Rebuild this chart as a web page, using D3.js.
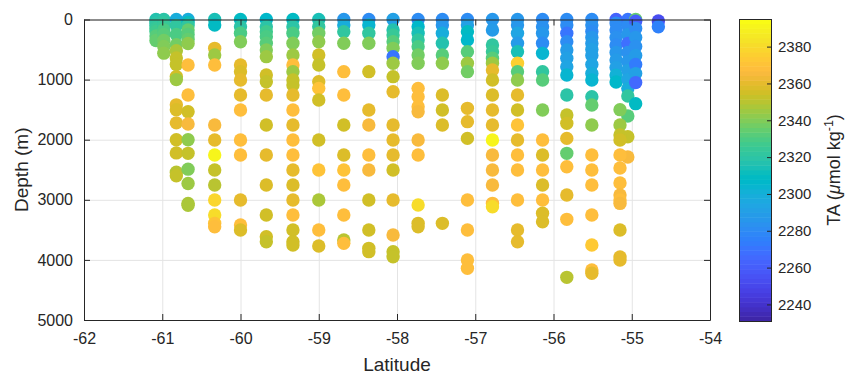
<!DOCTYPE html>
<html>
<head>
<meta charset="utf-8">
<script src="https://cdn.jsdelivr.net/npm/d3@7"></script>
<style>
  html, body { margin: 0; padding: 0; background: #fff; }
  svg text { font-family: "Liberation Sans", Arial, Helvetica, sans-serif; fill: #262626; }
</style>
</head>
<body>
<svg id="chart" width="845" height="374"></svg>
<script>
// Station latitudes (deg N) of the section
const stationLatitude = [
  -61.08, -60.98, -60.82, -60.67, -60.33, -60.0, -59.67, -59.33, -59.0,
  -58.68, -58.36, -58.05, -57.73, -57.42, -57.1, -56.78, -56.46, -56.14,
  -55.83, -55.51, -55.2, -55.05, -54.95, -55.15, -54.66
];

// Bottle depths (m) at each station
const sampleDepth = [
  [0, 25, 60, 100, 150, 200, 275, 350],
  [0, 50, 100, 175, 250, 350, 450, 560],
  [0, 100, 250, 420, 520, 640, 750, 950, 1000, 1420, 1500, 1720, 2000, 2220, 2540, 2600],
  [0, 50, 100, 175, 250, 330, 400, 757, 1256, 1534, 1740, 2000, 2227, 2490, 2730, 3060, 3090],
  [0, 92, 480, 591, 757, 1755, 2005, 2255, 2504, 2754, 3004, 3253, 3392, 3448],
  [0, 120, 230, 369, 757, 868, 1007, 1256, 1506, 2005, 2255, 3004, 3420, 3503],
  [0, 120, 203, 286, 396, 507, 618, 924, 1035, 1256, 1755, 2255, 2754, 3253, 3614, 3697],
  [0, 120, 230, 396, 591, 757, 868, 1007, 1090, 1256, 1506, 1755, 2005, 2255, 2504, 2754, 3004, 3253, 3503, 3697, 3752],
  [0, 120, 230, 369, 591, 757, 1035, 1146, 1340, 2005, 2504, 3004, 3503, 3769],
  [0, 92, 203, 396, 868, 1256, 1755, 2255, 2504, 2754, 3253, 3669, 3725],
  [0, 92, 230, 396, 868, 1506, 1755, 2255, 2504, 3004, 3503, 3808, 3863],
  [0, 175, 258, 369, 480, 618, 729, 951, 1201, 1755, 2005, 2255, 2504, 3004, 3586, 3863, 3947],
  [0, 120, 230, 341, 452, 591, 729, 1146, 1284, 1451, 1534, 2005, 2255, 3087, 3392, 3448],
  [0, 92, 230, 396, 591, 729, 1256, 1506, 1755, 3392],
  [0, 92, 203, 341, 535, 729, 868, 1478, 1700, 1978, 3004, 3503, 4002, 4140],
  [0, 175, 424, 535, 646, 729, 840, 1007, 1256, 1506, 1755, 2005, 2255, 2504, 2754, 3059, 3115],
  [0, 92, 230, 396, 535, 729, 868, 1007, 1256, 1506, 1755, 2005, 2255, 2504, 3004, 3503, 3697],
  [0, 120, 230, 396, 563, 868, 1007, 1506, 2005, 2255, 2504, 2754, 3004, 3225, 3365],
  [0, 92, 230, 369, 507, 646, 785, 924, 1256, 1589, 1728, 1978, 2227, 2449, 2921, 3325, 4290],
  [0, 92, 200, 300, 400, 500, 600, 750, 900, 1007, 1284, 1423, 1755, 2255, 2504, 2754, 3253, 3752, 4168, 4223],
  [0, 60, 175, 300, 425, 550, 675, 800, 925, 1040],
  [0, 100, 250, 400, 550, 700, 850, 1000, 1150, 1273, 1606, 1950, 2288],
  [0, 30, 150, 300, 450, 600, 750, 900, 1050, 1400],
  [1500, 1755, 1922, 2005, 2255, 2470, 2720, 2920, 3004, 3060, 3503, 3952, 4002],
  [25, 120]
];

// Total alkalinity (umol/kg) of each bottle
const sampleTA = [
  [2318, 2318, 2320, 2322, 2325, 2328, 2332, 2335],
  [2320, 2322, 2325, 2330, 2333, 2337, 2340, 2342],
  [2300, 2322, 2330, 2338, 2348, 2352, 2353, 2356, 2345, 2360, 2357, 2361, 2355, 2355, 2350, 2352],
  [2298, 2312, 2322, 2335, 2333, 2336, 2342, 2368, 2367, 2355, 2366, 2343, 2352, 2340, 2345, 2348, 2347],
  [2315, 2308, 2360, 2345, 2369, 2366, 2361, 2390, 2352, 2350, 2378, 2380, 2370, 2368],
  [2308, 2320, 2330, 2340, 2360, 2358, 2361, 2361, 2367, 2368, 2368, 2360, 2368, 2358],
  [2306, 2320, 2326, 2330, 2333, 2340, 2346, 2354, 2352, 2360, 2355, 2360, 2357, 2354, 2354, 2353],
  [2310, 2320, 2330, 2340, 2345, 2368, 2345, 2352, 2352, 2360, 2368, 2360, 2367, 2367, 2360, 2357, 2360, 2367, 2356, 2355, 2355],
  [2315, 2322, 2338, 2342, 2355, 2352, 2357, 2370, 2355, 2355, 2370, 2348, 2368, 2359],
  [2285, 2298, 2322, 2340, 2368, 2368, 2356, 2357, 2370, 2368, 2368, 2350, 2368],
  [2280, 2305, 2322, 2340, 2355, 2360, 2366, 2368, 2366, 2356, 2356, 2355, 2355],
  [2290, 2318, 2324, 2332, 2340, 2270, 2345, 2352, 2360, 2361, 2361, 2361, 2356, 2361, 2366, 2352, 2352],
  [2282, 2306, 2314, 2322, 2330, 2338, 2340, 2368, 2368, 2368, 2366, 2366, 2367, 2380, 2358, 2357],
  [2282, 2286, 2300, 2318, 2333, 2342, 2357, 2356, 2357, 2357],
  [2280, 2292, 2310, 2306, 2332, 2345, 2338, 2360, 2360, 2356, 2368, 2368, 2368, 2368],
  [2285, 2288, 2322, 2325, 2332, 2345, 2360, 2356, 2357, 2361, 2361, 2392, 2366, 2366, 2366, 2368, 2382],
  [2285, 2285, 2295, 2288, 2315, 2375, 2333, 2342, 2360, 2356, 2370, 2361, 2368, 2368, 2368, 2361, 2360],
  [2282, 2283, 2285, 2282, 2305, 2322, 2332, 2340, 2368, 2357, 2368, 2357, 2368, 2357, 2359],
  [2282, 2280, 2270, 2282, 2288, 2290, 2295, 2305, 2320, 2352, 2354, 2360, 2336, 2368, 2361, 2368, 2350],
  [2282, 2283, 2280, 2285, 2288, 2290, 2292, 2295, 2298, 2305, 2320, 2335, 2343, 2368, 2368, 2368, 2368, 2374, 2368, 2360],
  [2262, 2280, 2282, 2284, 2282, 2285, 2288, 2292, 2302, 2306],
  [2270, 2282, 2285, 2268, 2283, 2286, 2290, 2294, 2300, 2322, 2332, 2352, 2366],
  [2335, 2260, 2282, 2286, 2283, 2288, 2272, 2291, 2266, 2308],
  [2340, 2345, 2352, 2355, 2368, 2368, 2368, 2366, 2368, 2366, 2359, 2361, 2361],
  [2252, 2276]
];

const latitudeTicks = [-62, -61, -60, -59, -58, -57, -56, -55, -54];
const depthTicks = [0, 1000, 2000, 3000, 4000, 5000];
const taTicks = [2240, 2260, 2280, 2300, 2320, 2340, 2360, 2380];
const taLimits = [2231, 2395];

// 64-step parula colormap
const parula = [
  "#3e26a8","#402ab4","#422ec0","#4332cb","#4537d5","#463cde","#4741e5","#4747eb",
  "#484df0","#4852f4","#4758f8","#465efb","#4563fd","#4269fe","#3e6fff","#3875fe",
  "#327cfc","#2f81fa","#2e87f7","#2d8cf3","#2b91ef","#2797eb","#259be8","#23a0e5",
  "#20a5e3","#1ca9df","#18addb","#12b1d6","#08b5d0","#01b8ca","#02bac3","#0bbdbd",
  "#19bfb6","#24c1ae","#2cc4a7","#31c69f","#37c897","#3fca8e","#4acb84","#57cc7a",
  "#64cd6f","#72cd64","#81cc59","#8fcb4e","#9dc943","#abc739","#b9c431","#c5c22a",
  "#d1bf27","#dcbd29","#e6bb2d","#f0ba36","#f8ba3d","#febe3c","#fec338","#fec934",
  "#fccf30","#fad62d","#f7dc2a","#f5e327","#f5e924","#f6ef20","#f7f51b","#f9fb15"
];

const svg = d3.select("#chart");
const box = { left: 84, right: 710, top: 19.5, bottom: 320 };
const ink = "#262626";

const x = d3.scaleLinear().domain([-62, -54]).range([box.left, box.right]);
const y = d3.scaleLinear().domain([0, 5000]).range([box.top, box.bottom]);
const color = d3.scaleQuantize().domain(taLimits).range(parula);
const plain = d => String(d);

// grid lines
svg.append("g")
  .attr("transform", `translate(0,${box.bottom})`)
  .call(d3.axisBottom(x).tickValues(latitudeTicks).tickSize(-(box.bottom - box.top)).tickFormat(""))
  .call(g => g.select(".domain").remove())
  .selectAll("line").attr("stroke", "#e4e4e4");
svg.append("g")
  .attr("transform", `translate(${box.left},0)`)
  .call(d3.axisLeft(y).tickValues(depthTicks).tickSize(-(box.right - box.left)).tickFormat(""))
  .call(g => g.select(".domain").remove())
  .selectAll("line").attr("stroke", "#e4e4e4");

// bottle samples
const samples = stationLatitude.flatMap((lat, i) =>
  sampleDepth[i].map((depth, j) => ({ lat, depth, ta: sampleTA[i][j] })));
svg.append("g")
  .selectAll("circle")
  .data(samples)
  .join("circle")
  .attr("cx", d => x(d.lat))
  .attr("cy", d => y(d.depth))
  .attr("r", 6.7)
  .attr("fill", d => color(d.ta));

// axes box with inward ticks
function styleAxis(g, size) {
  g.select(".domain").attr("stroke", ink);
  g.selectAll(".tick line").attr("stroke", ink);
  g.selectAll(".tick text").attr("font-size", size).attr("fill", ink)
    .attr("font-family", "'Liberation Sans', Arial, sans-serif");
}
svg.append("g")
  .attr("transform", `translate(0,${box.bottom})`)
  .call(d3.axisBottom(x).tickValues(latitudeTicks).tickSizeInner(-6).tickSizeOuter(0).tickPadding(13).tickFormat(plain))
  .call(g => styleAxis(g, 16));
svg.append("g")
  .attr("transform", `translate(0,${box.top})`)
  .call(d3.axisTop(x).tickValues(latitudeTicks).tickSizeInner(-6).tickSizeOuter(0).tickFormat(""))
  .call(g => styleAxis(g, 16));
svg.append("g")
  .attr("transform", `translate(${box.left},0)`)
  .call(d3.axisLeft(y).tickValues(depthTicks).tickSizeInner(-6).tickSizeOuter(0).tickPadding(11).tickFormat(plain))
  .call(g => styleAxis(g, 16));
svg.append("g")
  .attr("transform", `translate(${box.right},0)`)
  .call(d3.axisRight(y).tickValues(depthTicks).tickSizeInner(-6).tickSizeOuter(0).tickFormat(""))
  .call(g => styleAxis(g, 16));

// axis titles
svg.append("text")
  .attr("x", (box.left + box.right) / 2).attr("y", 371)
  .attr("text-anchor", "middle").attr("font-size", 19)
  .text("Latitude");
svg.append("text")
  .attr("transform", `translate(28,${(box.top + box.bottom) / 2}) rotate(-90)`)
  .attr("text-anchor", "middle").attr("font-size", 19)
  .text("Depth (m)");

// colorbar
const cb = { left: 739, width: 32, top: 19, bottom: 321 };
const cbScale = d3.scaleLinear().domain(taLimits).range([cb.bottom, cb.top]);
const step = (taLimits[1] - taLimits[0]) / parula.length;
svg.append("g")
  .selectAll("rect")
  .data(parula.map((c, i) => ({ c, v0: taLimits[0] + i * step, v1: taLimits[0] + (i + 1) * step })))
  .join("rect")
  .attr("x", cb.left).attr("width", cb.width)
  .attr("y", d => cbScale(d.v1))
  .attr("height", d => cbScale(d.v0) - cbScale(d.v1) + 0.5)
  .attr("fill", d => d.c);
svg.append("rect")
  .attr("x", cb.left + 0.5).attr("y", cb.top + 0.5)
  .attr("width", cb.width).attr("height", cb.bottom - cb.top)
  .attr("fill", "none").attr("stroke", ink);
svg.append("g")
  .attr("transform", `translate(${cb.left + cb.width},0)`)
  .call(d3.axisRight(cbScale).tickValues(taTicks).tickSizeInner(-4).tickSizeOuter(0).tickPadding(7).tickFormat(plain))
  .call(g => g.select(".domain").remove())
  .call(g => styleAxis(g, 15));

const cbTitle = svg.append("text")
  .attr("transform", `translate(840,${(cb.top + cb.bottom) / 2}) rotate(-90)`)
  .attr("text-anchor", "middle").attr("font-size", 18);
cbTitle.append("tspan").text("TA (");
cbTitle.append("tspan").attr("font-style", "italic").text("μ");
cbTitle.append("tspan").text("mol kg");
cbTitle.append("tspan").attr("font-size", 12.5).attr("dy", -7).text("-1");
cbTitle.append("tspan").attr("dy", 7).text(")");
</script>
</body>
</html>
